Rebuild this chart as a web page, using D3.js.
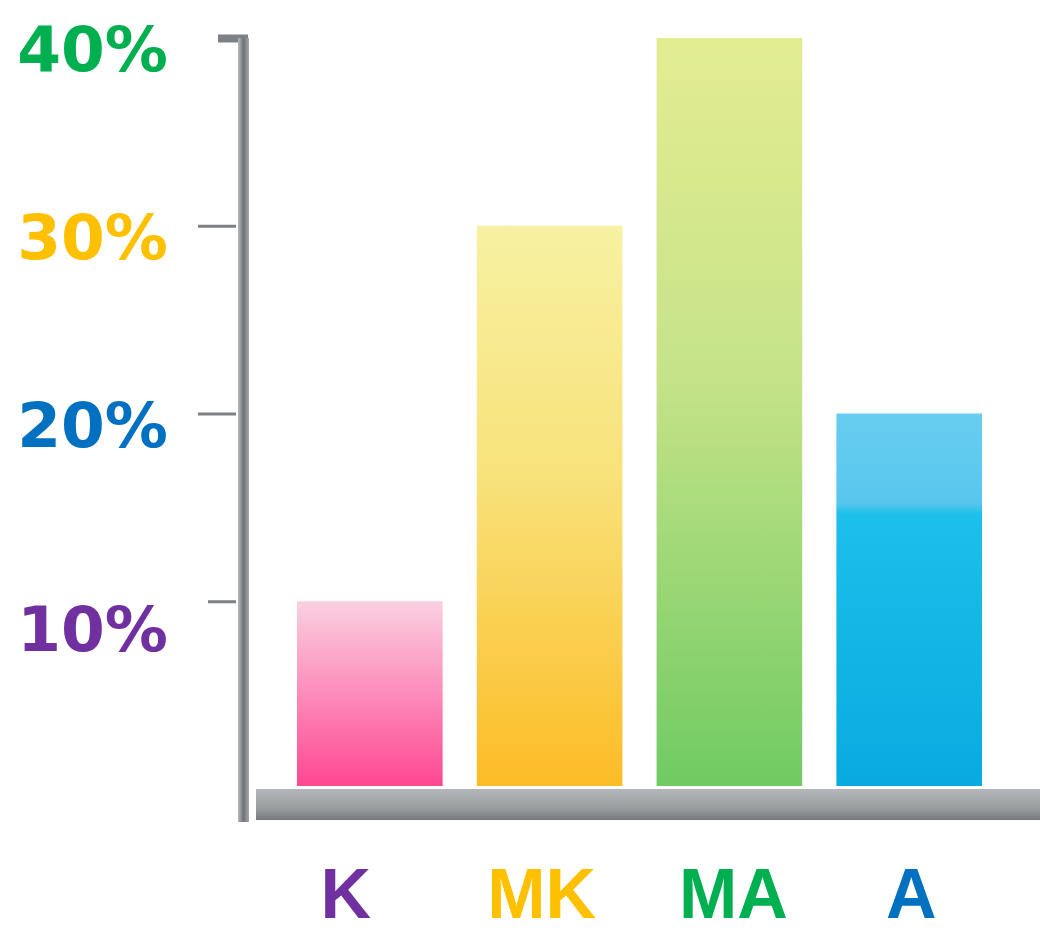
<!DOCTYPE html>
<html>
<head>
<meta charset="utf-8">
<script src="https://cdn.jsdelivr.net/npm/d3@7"></script>
<style>
  body { margin: 0; background: #fff; }
</style>
</head>
<body>
<div id="graph"></div>
<script>
/*******************************************************************************
* Data
*******************************************************************************/
var categories = ['K', 'MK', 'MA', 'A'];
var values = [10, 30, 40, 20];
var tickValues = [10, 20, 30, 40];
var tickLabels = ['10%', '20%', '30%', '40%'];

/*******************************************************************************
* Colors
*******************************************************************************/
var labelColors = { K: '#7030a0', MK: '#ffc000', MA: '#00b050', A: '#0070c0' };
var tickColors = { 10: '#7030a0', 20: '#0070c0', 30: '#ffc000', 40: '#00b050' };
var barStops = {
  K:  [['0%', '#fad0e2'], ['100%', '#ff4791']],
  MK: [['0%', '#f7f1a2'], ['45%', '#f8e27a'], ['100%', '#fcbc26']],
  MA: [['0%', '#e4ec92'], ['45%', '#c6e388'], ['100%', '#70cb62']],
  A:  [['0%', '#68cdf0'], ['24%', '#58c7ee'], ['27%', '#1cc0ea'], ['100%', '#07abe0']]
};

/*******************************************************************************
* Svg Container
*******************************************************************************/
var width = 1040;
var height = 932;

var svg = d3.select('#graph').append('svg')
  .attr('width', width)
  .attr('height', height)
  .style('display', 'block');

var defs = svg.append('defs');

categories.forEach(function(c){
  var g = defs.append('linearGradient')
    .attr('id', 'grad-' + c)
    .attr('x1', 0).attr('y1', 0).attr('x2', 0).attr('y2', 1);
  barStops[c].forEach(function(s){
    g.append('stop').attr('offset', s[0]).attr('stop-color', s[1]);
  });
});

var baseGrad = defs.append('linearGradient')
  .attr('id', 'grad-base')
  .attr('x1', 0).attr('y1', 0).attr('x2', 0).attr('y2', 1);
baseGrad.append('stop').attr('offset', '0%').attr('stop-color', '#b3b7b9');
baseGrad.append('stop').attr('offset', '60%').attr('stop-color', '#9a9ea2');
baseGrad.append('stop').attr('offset', '100%').attr('stop-color', '#75797d');

var axisGrad = defs.append('linearGradient')
  .attr('id', 'grad-axis')
  .attr('x1', 0).attr('y1', 0).attr('x2', 1).attr('y2', 0);
axisGrad.append('stop').attr('offset', '0%').attr('stop-color', '#b8babd');
axisGrad.append('stop').attr('offset', '50%').attr('stop-color', '#6f7377');
axisGrad.append('stop').attr('offset', '100%').attr('stop-color', '#a6a9ac');

/*******************************************************************************
* Scales
*******************************************************************************/
var x = d3.scaleBand()
  .domain(categories)
  .range([279, 1000])
  .paddingInner(0.19)
  .paddingOuter(0.1);

var y = d3.scaleLinear()
  .domain([0, 40])
  .range([789, 38]);

var axisX = 244;

/*******************************************************************************
* Base and vertical axis
*******************************************************************************/
svg.append('rect')
  .attr('x', 256)
  .attr('y', y(0))
  .attr('width', width - 256)
  .attr('height', 31)
  .style('fill', 'url(#grad-base)');

var yAxis = d3.axisLeft(y)
  .tickValues(tickValues)
  .tickSize(38)
  .tickPadding(38)
  .tickFormat(function(d){ return tickLabels[tickValues.indexOf(d)]; });

var axisG = svg.append('g')
  .attr('transform', 'translate(' + axisX + ',0)')
  .call(yAxis);

axisG.select('.domain').remove();
axisG.selectAll('.tick line')
  .style('stroke', '#7d8084')
  .style('stroke-width', function(d){ return d === 40 ? 8 : 3; })
  .attr('x1', function(d){ return d === 40 ? 4 : -8; })
  .attr('x2', function(d){ return d === 40 ? -26 : (d === 10 ? -36 : -46); });
axisG.selectAll('.tick text')
  .style('font-family', '"DejaVu Sans", sans-serif')
  .style('font-weight', 'bold')
  .style('font-size', '63px')
  .style('fill', function(d){ return tickColors[d]; })
  .attr('dy', function(d){ return d === 10 ? '0.78em' : '0.52em'; });

svg.append('rect')
  .attr('x', axisX - 6)
  .attr('y', y(40))
  .attr('width', 11)
  .attr('height', 822 - y(40))
  .style('fill', 'url(#grad-axis)');

/*******************************************************************************
* Bars
*******************************************************************************/
svg.append('g').selectAll('rect')
  .data(categories)
  .enter()
  .append('rect')
  .attr('x', function(d){ return x(d); })
  .attr('y', function(d, i){ return y(values[i]); })
  .attr('width', x.bandwidth())
  .attr('height', function(d, i){ return y(0) - 3 - y(values[i]); })
  .style('fill', function(d){ return 'url(#grad-' + d + ')'; });

/*******************************************************************************
* Category labels
*******************************************************************************/
var labelShift = { K: -24, MK: -8, MA: 4, A: 2 };

svg.append('g').selectAll('text')
  .data(categories)
  .enter()
  .append('text')
  .attr('x', function(d){ return x(d) + x.bandwidth() / 2 + labelShift[d]; })
  .attr('y', 918)
  .attr('text-anchor', 'middle')
  .style('font-family', '"Liberation Sans", Arial, sans-serif')
  .style('font-weight', 'bold')
  .style('font-size', '70px')
  .style('fill', function(d){ return labelColors[d]; })
  .text(function(d){ return d; });
</script>
</body>
</html>
